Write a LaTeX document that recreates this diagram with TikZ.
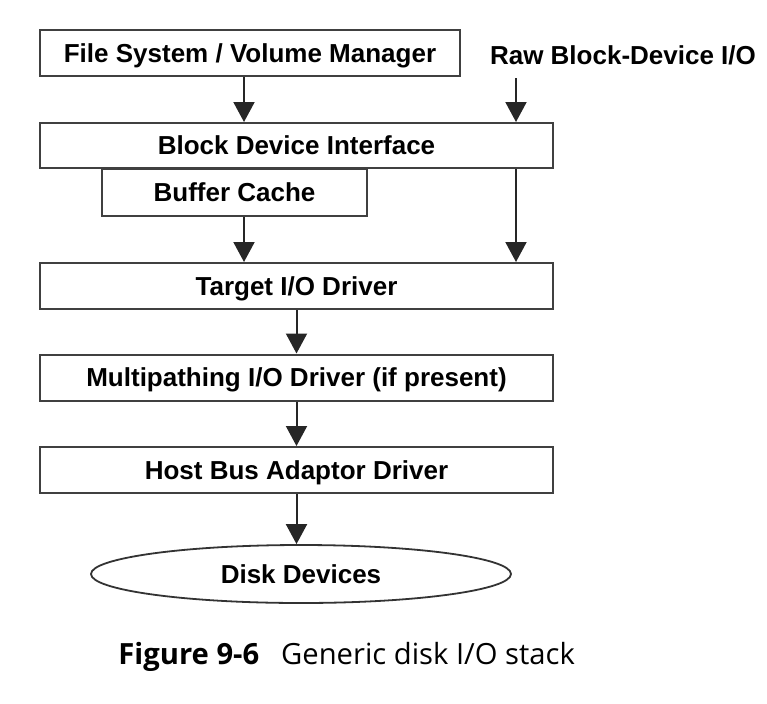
\documentclass[tikz,border=0pt]{standalone}
\usepackage{fontspec}
\setmainfont{Liberation Sans}
\newfontfamily\capfont{Open Sans}
\usetikzlibrary{positioning, shapes.geometric, arrows.meta}
\tikzset{
flow/.style={-{Triangle[length=10pt,width=10.5pt]}, line width=1pt, draw=black!85}, % arrows between layers
layer/.style={draw=black!75, line width=1pt, minimum width=256.5pt, minimum height=23pt, inner sep=0pt}, % a box of the stack
disk/.style={ellipse, draw=black!80, line width=0.9pt, minimum width=210pt, minimum height=29pt, inner sep=0pt},
every node/.style={font=\bfseries\fontsize{13}{15}\selectfont, text height=9.3pt, text depth=0pt},
}

\begin{document}
\begin{tikzpicture}[x=0.5pt,y=-0.5pt]
            \useasboundingbox (0,0) rectangle (767,703);

            \node [layer, minimum width=210pt] (fs) at (250,53) {File System / Volume Manager};
            \node (raw) at (623,55) {Raw Block-Device I/O};
            \node [layer, minimum height=22.5pt] (bdi) at (296.5,145.5) {Block Device Interface};
            \node [layer, minimum width=132.5pt, minimum height=23.5pt, anchor=north] (bc) at (234.5,168) {Buffer Cache};
            \node [layer] (target) at (296.5,286) {Target I/O Driver};
            \node [layer] (multi) at (296.5,377.5) {Multipathing I/O Driver (if present)};
            \node [layer] (host) at (296.5,470) {Host Bus Adaptor Driver};
            \node [disk] (disk) at (301,574) {Disk Devices};
            \node [anchor=base west, inner sep=0pt, font=\capfont\fontsize{14.6}{17}\selectfont] (cap) at (118,664) {\textbf{Figure 9-6}\hspace{0.75em}Generic disk I/O stack};

            \coordinate (lx) at (244,0);
            \coordinate (rawtop) at (516,78);

            \draw[flow] (fs.south -| lx) -- (bdi.north -| lx);
            \draw[flow] (rawtop) -- (bdi.north -| rawtop);
            \draw[flow] (bc.south -| lx) -- (target.north -| lx);
            \draw[flow] (bdi.south -| rawtop) -- (target.north -| rawtop);
            \draw[flow] (target) -- (multi);
            \draw[flow] (multi) -- (host);
            \draw[flow] (host.south) -- (disk.north -| host.south);
\end{tikzpicture}
\end{document}
